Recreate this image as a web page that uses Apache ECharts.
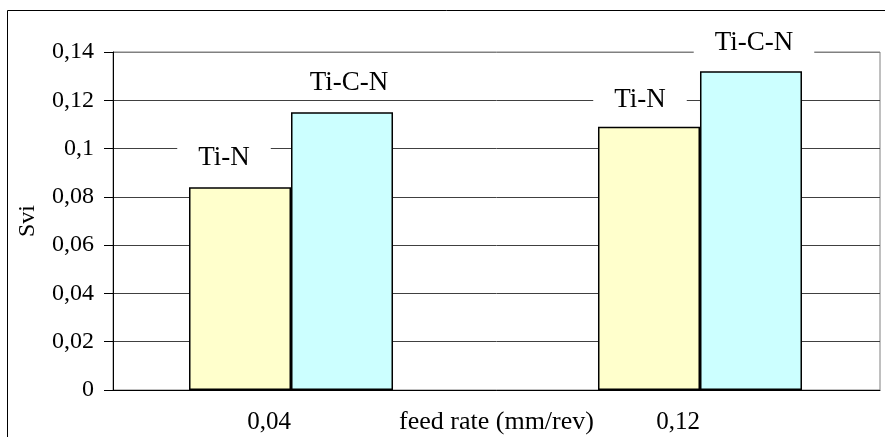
<!DOCTYPE html>
<html>
<head>
<meta charset="utf-8">
<script src="https://cdn.jsdelivr.net/npm/echarts@6/dist/echarts.min.js"></script>
<style>
  html, body { margin: 0; padding: 0; background: #fff; }
  #chart { width: 885px; height: 437px; }
</style>
</head>
<body>
<div id="chart"></div>
<script>
// Feed rates (mm/rev) and the Svi measured for each coating
const feedRates = [0.04, 0.12];
const tiN = [0.084, 0.109];
const tiCN = [0.115, 0.132];
const seriesNames = ['Ti-N', 'Ti-C-N'];
const yMin = 0, yMax = 0.14, yStep = 0.02;

// small nudges for the coating labels above the bars
const labelNudge = {
  'Ti-N': [[-16, -1], [-9, 2]],
  'Ti-C-N': [[7, -1], [3, 0]]
};

const FONT = '"Liberation Serif", "Times New Roman", serif';
const fmt = v => String(+Number(v).toFixed(3)).replace('.', ',');

function barSeries(name, values, fill) {
  return {
    name: name,
    type: 'bar',
    barWidth: 102,
    barGap: '0%',
    data: values.map((v, i) => ({
      value: [feedRates[i], v],
      label: { offset: labelNudge[name][i] }
    })),
    itemStyle: { color: fill, borderColor: '#000', borderWidth: 1.5 },
    label: {
      show: true,
      position: 'top',
      distance: 13,
      formatter: name,
      fontFamily: FONT,
      fontSize: 27,
      color: '#000',
      backgroundColor: '#fff',
      padding: [2, 21]
    },
    emphasis: { disabled: true }
  };
}

const chart = echarts.init(document.getElementById('chart'), null, { renderer: 'canvas' });
chart.setOption({
  animation: false,
  backgroundColor: '#fff',
  graphic: [{
    type: 'rect',
    shape: { x: 7.5, y: 10.5, width: 890, height: 440 },
    style: { fill: 'none', stroke: '#000', lineWidth: 1 },
    z: 100
  }],
  grid: {
    left: 113, right: 5, top: 52, bottom: 47,
    outerBoundsMode: 'none',
    containLabel: false,
    show: true, borderColor: '#808080', borderWidth: 1, backgroundColor: 'transparent'
  },
  xAxis: {
    type: 'value',
    min: 0.00518,
    max: 0.15521,
    splitLine: { show: false },
    axisTick: { show: false },
    axisLine: { show: true, lineStyle: { color: '#000', width: 1 } },
    axisLabel: {
      customValues: feedRates,
      formatter: fmt,
      align: 'right',
      margin: 20,
      fontFamily: FONT,
      fontSize: 25,
      color: '#000'
    },
    name: 'feed rate (mm/rev)',
    nameLocation: 'middle',
    nameGap: 19,
    nameMoveOverlap: false,
    nameTextStyle: { fontFamily: FONT, fontSize: 26, color: '#000' }
  },
  yAxis: {
    type: 'value',
    min: yMin,
    max: yMax,
    interval: yStep,
    axisLine: { show: true, lineStyle: { color: '#000', width: 1 } },
    axisTick: { show: true, inside: false, length: 9, lineStyle: { color: '#000' } },
    axisLabel: { formatter: fmt, margin: 19, fontFamily: FONT, fontSize: 24, color: '#000' },
    splitLine: {
      show: true,
      lineStyle: {
        color: ['#404040', '#404040', '#404040', '#404040', '#404040', '#404040', '#404040', '#808080'],
        width: 1
      }
    },
    name: 'Svi',
    nameLocation: 'middle',
    nameGap: 73,
    nameMoveOverlap: false,
    nameTextStyle: { fontFamily: FONT, fontSize: 24, color: '#000' }
  },
  series: [
    barSeries(seriesNames[0], tiN, '#FFFFCC'),
    barSeries(seriesNames[1], tiCN, '#CCFFFF')
  ]
});
</script>
</body>
</html>
